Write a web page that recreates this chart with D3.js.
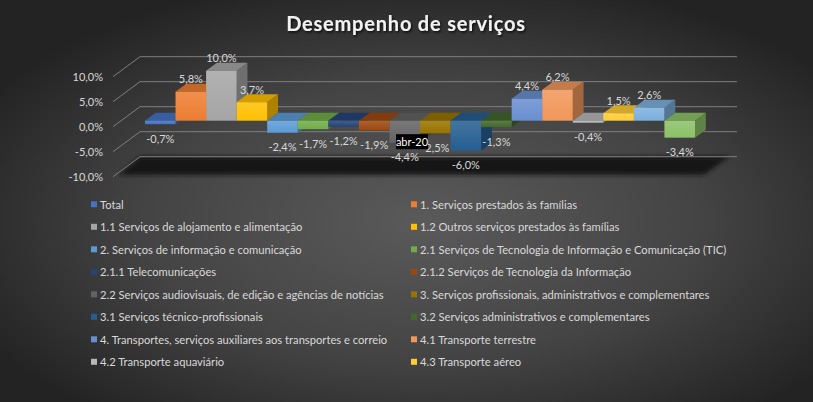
<!DOCTYPE html>
<html>
<head>
<meta charset="utf-8">
<script src="https://cdn.jsdelivr.net/npm/d3@7"></script>
<style>
  html, body { margin: 0; padding: 0; background: #2a2a2a; }
  svg { display: block; }
</style>
</head>
<body>
<div id="chart"></div>
<script>
'use strict';

// data
var categories = ['abr-20'];
var seriesNames = [
  'Total',
  '1. Serviços prestados às famílias',
  '1.1 Serviços de alojamento e alimentação',
  '1.2 Outros serviços prestados às famílias',
  '2. Serviços de informação e comunicação',
  '2.1 Serviços de Tecnologia de Informação e Comunicação (TIC)',
  '2.1.1 Telecomunicações',
  '2.1.2 Serviços de Tecnologia da Informação',
  '2.2 Serviços audiovisuais, de edição e agências de notícias',
  '3. Serviços profissionais, administrativos e complementares',
  '3.1 Serviços técnico-profissionais',
  '3.2 Serviços administrativos e complementares',
  '4. Transportes, serviços auxiliares aos transportes e correio',
  '4.1 Transporte terrestre',
  '4.2 Transporte aquaviário',
  '4.3 Transporte aéreo',
  '4.4 Armazenagem, serviços auxiliares aos transportes e correio',
  '5. Outros serviços'
];
var seriesValues = [-0.7, 5.8, 10.0, 3.7, -2.4, -1.7, -1.2, -1.9, -4.4, -2.5, -6.0, -1.3, 4.4, 6.2, -0.4, 1.5, 2.6, -3.4];
var yTicks = [-10, -5, 0, 5, 10];
var legendCount = 16; // the legend in the picture stops after 4.3

var seriesColors = [
  '#4472C4', '#ED7D31', '#A5A5A5', '#FFC000', '#5B9BD5', '#70AD47',
  '#264478', '#9E480E', '#636363', '#997300', '#255E91', '#43682B',
  '#698ED0', '#F1975A', '#B7B7B7', '#FFCD33', '#7CAFDD', '#8CC168'
];

var width = 813,
  height = 402;

var font = "Lato, 'Liberation Sans', sans-serif";
var textColor = '#d9d9d9';

var pt = d3.formatLocale({decimal: ',', thousands: '.', grouping: [3], currency: ['R$', ''], minus: '-'});
var fmt = pt.format('.1f');
function pct(v) { return fmt(v) + '%'; }

var svg = d3.select('#chart').append('svg')
  .attr('width', width)
  .attr('height', height);

var defs = svg.append('defs');

var bg = defs.append('radialGradient')
  .attr('id', 'bg')
  .attr('cx', '52%').attr('cy', '55%').attr('r', '62%');
bg.append('stop').attr('offset', '0%').attr('stop-color', '#5a5a5a');
bg.append('stop').attr('offset', '55%').attr('stop-color', '#444444');
bg.append('stop').attr('offset', '100%').attr('stop-color', '#232323');

var sheen = defs.append('linearGradient')
  .attr('id', 'sheen')
  .attr('x1', 0).attr('y1', 0).attr('x2', 0).attr('y2', 1);
sheen.append('stop').attr('offset', '0%').attr('stop-color', '#fff').attr('stop-opacity', 0.14);
sheen.append('stop').attr('offset', '100%').attr('stop-color', '#fff').attr('stop-opacity', 0);

defs.append('filter').attr('id', 'blur')
  .attr('x', '-10%').attr('y', '-50%').attr('width', '120%').attr('height', '200%')
  .append('feGaussianBlur').attr('stdDeviation', 2);

var shadow = defs.append('filter').attr('id', 'tshadow')
  .attr('x', '-10%').attr('y', '-30%').attr('width', '120%').attr('height', '160%');
shadow.append('feDropShadow')
  .attr('dx', 1.2).attr('dy', 1.5).attr('stdDeviation', 1.2)
  .attr('flood-color', '#000').attr('flood-opacity', 0.8);

svg.append('rect')
  .attr('width', width)
  .attr('height', height)
  .attr('fill', 'url(#bg)');

// title
svg.append('text')
  .attr('x', 406)
  .attr('y', 23)
  .attr('text-anchor', 'middle')
  .attr('dominant-baseline', 'central')
  .attr('font-family', font)
  .attr('font-weight', 'bold')
  .attr('font-size', 20)
  .attr('letter-spacing', 0.8)
  .attr('fill', '#f2f2f2')
  .attr('filter', 'url(#tshadow)')
  .text('Desempenho de serviços');

// scales
var n = seriesValues.length;
var x = d3.scaleBand().domain(d3.range(n)).range([145, 695]);
var y = d3.scaleLinear().domain([-10, 10]).range([176.7, 76.7]);

var wall = {dx: 27, dy: -20, left: 113, right: 737};
var front = {dx: 0.3 * wall.dx, dy: 0.3 * wall.dy};   // bars sit 30% into the depth
var depth = {dx: 10.8, dy: -8};                       // bar depth
function yb(v) { return y(v) + front.dy; }

// floor at the axis minimum
var fy = y(-10);
svg.append('polygon')
  .attr('points', [
    [wall.left + 6, fy - 2],
    [wall.left + wall.dx, fy + wall.dy],
    [wall.right - 8, fy + wall.dy],
    [wall.right - wall.dx - 6, fy - 2]
  ].map(function(p) { return p.join(','); }).join(' '))
  .attr('fill', '#151515')
  .attr('filter', 'url(#blur)');

// gridlines: side wall diagonal then back wall
svg.append('g').selectAll('path').data(yTicks)
  .enter().append('path')
    .attr('d', function(d) {
      var y0 = y(d);
      return 'M' + wall.left + ',' + y0 +
        'L' + (wall.left + wall.dx) + ',' + (y0 + wall.dy) +
        'L' + wall.right + ',' + (y0 + wall.dy);
    })
    .attr('fill', 'none')
    .attr('stroke', '#7f7f7f')
    .attr('stroke-width', 1);

// y axis labels
svg.append('g').selectAll('text').data(yTicks)
  .enter().append('text')
    .attr('x', 103)
    .attr('y', function(d) { return y(d); })
    .attr('text-anchor', 'end')
    .attr('dominant-baseline', 'central')
    .attr('font-family', font)
    .attr('font-size', 11)
    .attr('fill', textColor)
    .text(function(d) { return pct(d); });

// bars, drawn left to right so later ones cover earlier side faces
var bw = x.bandwidth();
var bars = svg.append('g').selectAll('g').data(seriesValues)
  .enter().append('g');

function poly(pts) {
  return pts.map(function(p) { return p.join(','); }).join(' ');
}

bars.each(function(v, i) {
  var g = d3.select(this);
  var c = d3.color(seriesColors[i]);
  var x0 = x(i),
    x1 = x0 + bw;
  var ytop = Math.min(yb(v), yb(0)),
    ybot = Math.max(yb(v), yb(0));

  // side face
  g.append('polygon')
    .attr('points', poly([[x1, ytop], [x1 + depth.dx, ytop + depth.dy], [x1 + depth.dx, ybot + depth.dy], [x1, ybot]]))
    .attr('fill', c.darker(1.1));
  // top face
  g.append('polygon')
    .attr('points', poly([[x0, ytop], [x1, ytop], [x1 + depth.dx, ytop + depth.dy], [x0 + depth.dx, ytop + depth.dy]]))
    .attr('fill', c.darker(0.55));
  // front face
  g.append('rect')
    .attr('x', x0).attr('y', ytop)
    .attr('width', bw).attr('height', Math.max(ybot - ytop, 0.8))
    .attr('fill', c);
  g.append('rect')
    .attr('x', x0).attr('y', ytop)
    .attr('width', bw).attr('height', Math.max(ybot - ytop, 0.8))
    .attr('fill', 'url(#sheen)');
});

// value labels
svg.append('g').selectAll('text').data(seriesValues)
  .enter().append('text')
    .attr('x', function(d, i) { return x(i) + bw / 2; })
    .attr('y', function(d) { return d >= 0 ? yb(d) - 13 : yb(d) + 14; })
    .attr('text-anchor', 'middle')
    .attr('dominant-baseline', 'central')
    .attr('font-family', font)
    .attr('font-size', 11)
    .attr('fill', textColor)
    .text(function(d) { return pct(d); });

// category label
var cat = svg.append('g')
  .attr('transform', 'translate(' + ((x(0) + x(n - 1) + bw) / 2 - 8) + ',' + (yb(0) + 21) + ')');
cat.append('rect')
  .attr('x', -16).attr('y', -7.5)
  .attr('width', 32).attr('height', 15)
  .attr('fill', '#000');
cat.append('text')
  .attr('text-anchor', 'middle')
  .attr('dominant-baseline', 'central')
  .attr('font-family', font)
  .attr('font-size', 11)
  .attr('fill', '#fff')
  .text(categories[0]);

// legend
var legendCols = [91, 411];
var legend = svg.append('g').selectAll('g').data(seriesNames.slice(0, legendCount))
  .enter().append('g')
    .attr('transform', function(d, i) {
      return 'translate(' + legendCols[i % 2] + ',' + (204.3 + Math.floor(i / 2) * 22.5) + ')';
    });
legend.append('rect')
  .attr('x', 0).attr('y', -3)
  .attr('width', 6).attr('height', 6)
  .attr('fill', function(d, i) { return seriesColors[i]; });
legend.append('text')
  .attr('x', 9)
  .attr('dominant-baseline', 'central')
  .attr('font-family', font)
  .attr('font-size', 11.2)
  .attr('fill', textColor)
  .text(function(d) { return d; });
</script>
</body>
</html>
